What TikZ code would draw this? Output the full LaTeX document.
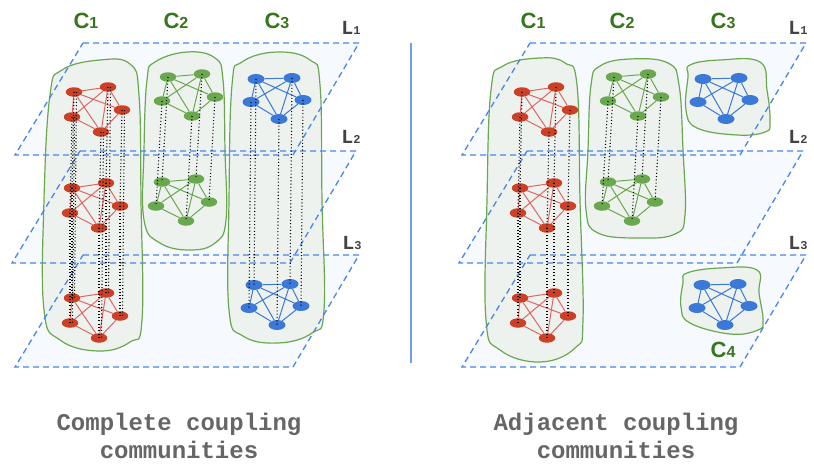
\documentclass[tikz,border=0pt]{standalone}
\usepackage{fontspec}
\usetikzlibrary{shapes.geometric}
\newfontfamily\monofont{Liberation Mono}
\newfontfamily\labfont{Liberation Sans}
\definecolor{dashblue}{HTML}{4A86E8}
\definecolor{planefill}{HTML}{F6F9FD}
\definecolor{blobfill}{HTML}{EEF2EF}
\definecolor{blobline}{HTML}{6AA84F}
\definecolor{rednode}{HTML}{CC4125}
\definecolor{rededge}{HTML}{E06666}
\definecolor{greennode}{HTML}{6AA84F}
\definecolor{bluenode}{HTML}{3C78D8}
\definecolor{clabel}{HTML}{38761D}
\definecolor{llabel}{HTML}{434343}
\definecolor{captiongray}{HTML}{666666}
\definecolor{divider}{HTML}{6D9EEB}
\tikzset{
  planearea/.style={fill=planefill},
  planeedge/.style={draw=dashblue, dash pattern=on 6pt off 4pt, line width=1.3pt},
  blob/.style={draw=blobline, fill=blobfill, line width=1.2pt},
  rn/.style={ellipse, fill=rednode, minimum width=16.5pt, minimum height=9.5pt, inner sep=0pt},
  gn/.style={ellipse, fill=greennode, minimum width=16.5pt, minimum height=9.5pt, inner sep=0pt},
  bn/.style={ellipse, fill=bluenode, minimum width=17pt, minimum height=10pt, inner sep=0pt},
  re/.style={draw=rededge, line width=1pt},
  ge/.style={draw=greennode, line width=1pt},
  be/.style={draw=bluenode, line width=1pt},
  coup/.style={draw=black, line width=1.1pt, dash pattern=on 1pt off 2.3pt},
  clab/.style={text=clabel, font=\labfont\bfseries\fontsize{22}{22}\selectfont},
  llab/.style={text=llabel, font=\monofont\bfseries\fontsize{20}{20}\selectfont},
  caption/.style={text=captiongray, align=center, font=\monofont\bfseries\fontsize{24}{28}\selectfont},
}
% offsets of the five nodes of a cluster relative to node A
\newcommand\setred{\def\obx{34}\def\oby{-5}\def\ocx{48}\def\ocy{18}\def\odx{-2}\def\ody{25}\def\oex{27}\def\oey{40}}
\newcommand\setgreen{\def\obx{34}\def\oby{-3}\def\ocx{47}\def\ocy{20}\def\odx{-6}\def\ody{24}\def\oex{24}\def\oey{39}}
\newcommand\setblue{\def\obx{36}\def\oby{-1}\def\ocx{47}\def\ocy{21}\def\odx{-5}\def\ody{23}\def\oex{23}\def\oey{40}}
\newcommand\clusterat[5]{%
  \node[#2] (#1A) at (#4,#5) {};
  \node[#2] (#1B) at ({#4+\obx},{#5+\oby}) {};
  \node[#2] (#1C) at ({#4+\ocx},{#5+\ocy}) {};
  \node[#2] (#1D) at ({#4+\odx},{#5+\ody}) {};
  \node[#2] (#1E) at ({#4+\oex},{#5+\oey}) {};
  \draw[#3] (#1A)--(#1B) (#1A)--(#1C) (#1A)--(#1D) (#1A)--(#1E)
            (#1B)--(#1C) (#1B)--(#1D) (#1B)--(#1E) (#1C)--(#1E) (#1D)--(#1E);
}
\newcommand\planeat[2]{% #1 x of top-left corner, #2 y of top edge
  \fill[planearea] (#1,#2) -- ({#1+276},#2) -- ({#1+210},{#2+112}) -- ({#1-68},{#2+112}) -- cycle;}
\newcommand\planeedgeat[2]{%
  \draw[planeedge] (#1,#2) -- ({#1+276},#2) -- ({#1+210},{#2+112}) -- ({#1-68},{#2+112}) -- cycle;}
\begin{document}
\begin{tikzpicture}[x=1pt,y=-1pt]
\useasboundingbox (0,0) rectangle (814,464);
\fill[white] (0,0) rectangle (814,464);
% ---------- planes (fills)
\planeat{83}{43}\planeat{80}{151}\planeat{83}{255}
\planeat{530}{43}\planeat{527}{151}\planeat{530}{255}
% ---------- community blobs, left
\draw[blob] plot[smooth cycle, tension=0.7] coordinates {(50,95) (62,70) (100,60) (130,64) (139,95) (141,200) (142,320) (130,342) (98,351) (60,340) (44,310) (44,200)};
\draw[blob] plot[smooth cycle, tension=0.7] coordinates {(147,80) (155,62) (187,52) (215,58) (223,80) (225,150) (226,220) (215,243) (190,250) (160,243) (144,220) (144,150)};
\draw[blob] plot[smooth cycle, tension=0.7] coordinates {(232,85) (242,62) (277,52) (310,60) (320,85) (322,200) (324,310) (312,333) (278,343) (243,336) (229,310) (229,200)};
% ---------- community blobs, right
\draw[blob] plot[smooth cycle, tension=0.7] coordinates {(491,90) (503,66) (540,58) (565,63) (577,85) (580,200) (583,320) (575,348) (540,362) (500,350) (486,320) (487,200)};
\draw[blob] plot[smooth cycle, tension=0.7] coordinates {(591,85) (600,66) (630,59) (668,63) (679,85) (683,150) (685,215) (675,234) (640,238) (598,233) (586,210) (588,150)};
\draw[blob] plot[smooth cycle, tension=0.7] coordinates {(690,65) (720,60) (760,62) (767,90) (770,122) (765,132) (737,135) (697,128) (686,110) (688,77)};
\draw[blob] plot[smooth cycle, tension=0.7] coordinates {(687,273) (720,268) (757,270) (759,293) (763,320) (758,330) (730,334) (690,323) (681,307) (683,283)};
% ---------- plane outlines
\planeedgeat{83}{43}\planeedgeat{80}{151}\planeedgeat{83}{255}
\planeedgeat{530}{43}\planeedgeat{527}{151}\planeedgeat{530}{255}
% ---------- divider
\draw[divider, line width=1.5pt] (411,43) coordinate (dtop) -- (411,363) coordinate (dbot);
% ---------- clusters, left
\setred
\clusterat{lra}{rn}{re}{74}{92}
\clusterat{lrb}{rn}{re}{72}{188}
\clusterat{lrc}{rn}{re}{72}{298}
\setgreen
\clusterat{lga}{gn}{ge}{168}{77}
\clusterat{lgb}{gn}{ge}{162}{182}
\setblue
\clusterat{lba}{bn}{be}{256}{79}
\clusterat{lbc}{bn}{be}{254}{285}
% ---------- clusters, right
\setred
\clusterat{rra}{rn}{re}{522}{92}
\clusterat{rrb}{rn}{re}{520}{188}
\clusterat{rrc}{rn}{re}{520}{298}
\setgreen
\clusterat{rga}{gn}{ge}{614}{77}
\clusterat{rgb}{gn}{ge}{608}{182}
\setblue
\clusterat{rba}{bn}{be}{703}{79}
\clusterat{rbd}{bn}{be}{702}{285}
% ---------- inter-layer couplings
\foreach \n in {A,B,C,D,E}{
  \draw[coup] (lra\n.center) -- (lrb\n.center);
  \draw[coup] (lrb\n.center) -- (lrc\n.center);
  \draw[coup] ([xshift=2.5pt]lra\n.center) -- ([xshift=2.5pt]lrc\n.center);
  \draw[coup] (lga\n.center) -- (lgb\n.center);
  \draw[coup] (lba\n.center) -- (lbc\n.center);
  \draw[coup] (rra\n.center) -- (rrb\n.center);
  \draw[coup] (rrb\n.center) -- (rrc\n.center);
  \draw[coup] (rga\n.center) -- (rgb\n.center);
}
% ---------- labels
\node[clab] (c1l) at (86,21) {C{\fontsize{16}{16}\selectfont 1}};
\node[clab] (c2l) at (176,21) {C{\fontsize{16}{16}\selectfont 2}};
\node[clab] (c3l) at (277,21) {C{\fontsize{16}{16}\selectfont 3}};
\node[clab] (c1r) at (533,21) {C{\fontsize{16}{16}\selectfont 1}};
\node[clab] (c2r) at (622,21) {C{\fontsize{16}{16}\selectfont 2}};
\node[clab] (c3r) at (723,21) {C{\fontsize{16}{16}\selectfont 3}};
\node[clab] (c4r) at (723,350) {C{\fontsize{16}{16}\selectfont 4}};
\node[llab] (l1l) at (351,28) {L{\fontsize{12}{12}\selectfont 1}};
\node[llab] (l2l) at (351,137) {L{\fontsize{12}{12}\selectfont 2}};
\node[llab] (l3l) at (352,243) {L{\fontsize{12}{12}\selectfont 3}};
\node[llab] (l1r) at (798,28) {L{\fontsize{12}{12}\selectfont 1}};
\node[llab] (l2r) at (798,137) {L{\fontsize{12}{12}\selectfont 2}};
\node[llab] (l3r) at (798,243) {L{\fontsize{12}{12}\selectfont 3}};
\node[caption] (capl) at (179,436) {Complete coupling\\communities};
\node[caption] (capr) at (616,436) {Adjacent coupling\\communities};
\end{tikzpicture}
\end{document}
